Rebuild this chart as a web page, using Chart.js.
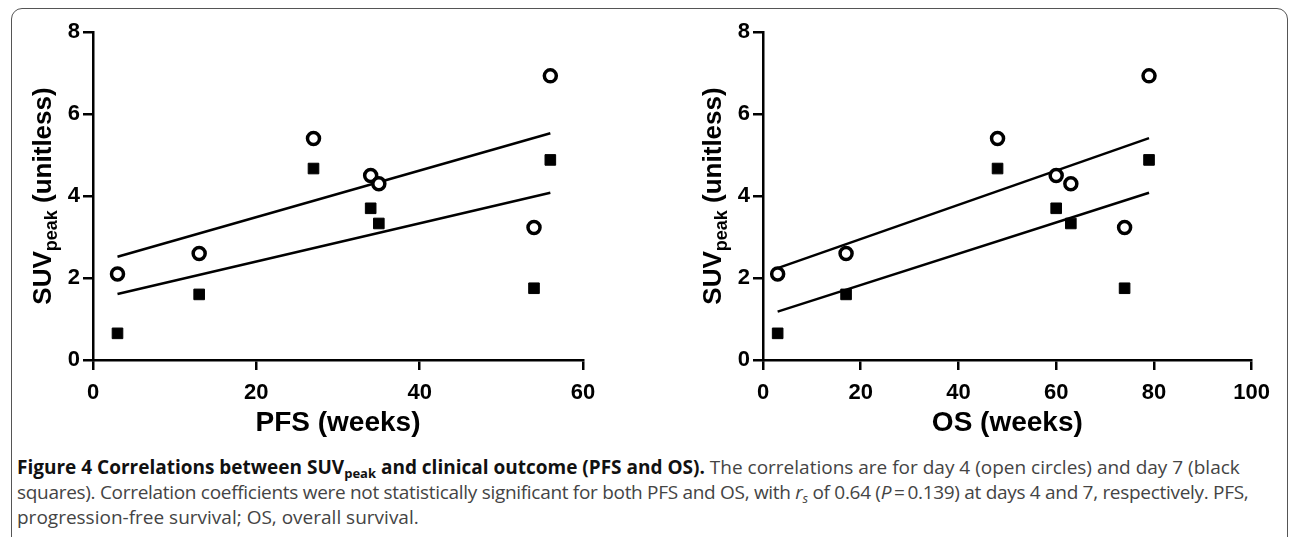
<!DOCTYPE html>
<html>
<head>
<meta charset="utf-8">
<script src="https://cdn.jsdelivr.net/npm/chart.js@4"></script>
<style>
  html, body { margin: 0; padding: 0; background: #fff; width: 1290px; height: 537px; overflow: hidden; }
  .frame { position: absolute; left: 11px; top: 8px; width: 1277px; height: 540px; border: 1.5px solid #555; border-radius: 11px; box-sizing: border-box; }
  .panel { position: absolute; top: 0; }
  #caption { position: absolute; left: 17px; top: 455px; width: 1270px; font-family: "Open Sans", sans-serif; font-size: 19px; line-height: 25px; color: #444; white-space: nowrap; }
  #caption b { color: #111; }
  #caption sub { font-size: 13px; line-height: 0; vertical-align: -4px; }
  #caption .tight { letter-spacing: -0.3px; }
</style>
</head>
<body>
<div class="frame"></div>
<div class="panel" style="left:0px"><canvas id="pfs-chart" width="640" height="450"></canvas></div>
<div class="panel" style="left:670px"><canvas id="os-chart" width="610" height="450"></canvas></div>
<div id="caption"><b>Figure 4 Correlations between SUV<sub>peak</sub> and clinical outcome (PFS and OS).</b> The correlations are for day 4 (open circles) and day 7 (black<br><span class="tight">squares). Correlation coefficients were not statistically significant for both PFS and OS, with <i>r<sub>s</sub></i> of 0.64 (<i>P</i>&#8201;=&#8201;0.139) at days 4 and 7, respectively. PFS,</span><br>progression-free survival; OS, overall survival.</div>
<script>
// Dane (ci sami pacjenci na obu panelach)
const pfsWeeks = [3, 13, 27, 34, 35, 54, 56];
const osWeeks = [3, 17, 48, 60, 63, 74, 79];
const suvDay4 = [2.1, 2.6, 5.4, 4.5, 4.3, 3.23, 6.93]; // otwarte kółka
const suvDay7 = [0.65, 1.6, 4.67, 3.7, 3.33, 1.75, 4.88]; // czarne kwadraty

// Końce linii regresji
const pfsFitX = [3, 56];
const pfsFitDay4 = [2.52, 5.53];
const pfsFitDay7 = [1.61, 4.08];
const osFitX = [3, 79];
const osFitDay4 = [2.24, 5.41];
const osFitDay7 = [1.18, 4.08];

const yTicks = [0, 2, 4, 6, 8];
const pfsTicks = [0, 20, 40, 60];
const osTicks = [0, 20, 40, 60, 80, 100];

const FONT = '"Liberation Sans", Arial, sans-serif';

const toPoints = (xs, ys) => xs.map((x, i) => ({ x: x, y: ys[i] }));

// Tytuły osi rysowane ręcznie (indeks dolny "peak")
const axisTitles = {
    id: 'axisTitles',
    afterDraw(chart, args, opts) {
        const ctx = chart.ctx;
        const a = chart.chartArea;
        ctx.save();
        ctx.fillStyle = '#000';
        ctx.textAlign = 'center';
        ctx.textBaseline = 'middle';
        ctx.font = 'bold 28px ' + FONT;
        ctx.fillText(opts.xTitle, (a.left + a.right) / 2, a.bottom + 63);

        ctx.translate(a.left - 51, (a.top + a.bottom) / 2);
        ctx.rotate(-Math.PI / 2);
        ctx.textAlign = 'left';
        ctx.textBaseline = 'alphabetic';
        const big = 'bold 26px ' + FONT, small = 'bold 18px ' + FONT;
        ctx.font = big;
        const w1 = ctx.measureText('SUV').width;
        const w3 = ctx.measureText(' (unitless)').width;
        ctx.font = small;
        const w2 = ctx.measureText('peak').width;
        let x = -(w1 + w2 + w3) / 2;
        ctx.font = big;
        ctx.fillText('SUV', x, 9);
        ctx.font = small;
        ctx.fillText('peak', x + w1, 15);
        ctx.font = big;
        ctx.fillText(' (unitless)', x + w1 + w2, 9);
        ctx.restore();
    }
};

function makeChart(id, weeks, fitX, fit4, fit7, xMax, xTicks, xTitle, padRight) {
    const ctx = document.getElementById(id).getContext('2d');
    const tickFont = { family: FONT, size: 22, weight: 'bold' };
    return new Chart(ctx, {
        type: 'scatter',
        data: {
            datasets: [
                {
                    label: 'Day 4',
                    data: toPoints(weeks, suvDay4),
                    pointStyle: 'circle',
                    pointRadius: 6,
                    borderWidth: 3.5,
                    borderColor: '#000',
                    backgroundColor: '#fff',
                    order: 1
                },
                {
                    label: 'Day 7',
                    data: toPoints(weeks, suvDay7),
                    pointStyle: 'rect',
                    pointRadius: 7.5,
                    borderWidth: 1,
                    borderColor: '#000',
                    backgroundColor: '#000',
                    order: 1
                },
                {
                    label: 'Fit day 4',
                    data: toPoints(fitX, fit4),
                    showLine: true,
                    pointRadius: 0,
                    borderColor: '#000',
                    borderWidth: 2.5,
                    order: 2
                },
                {
                    label: 'Fit day 7',
                    data: toPoints(fitX, fit7),
                    showLine: true,
                    pointRadius: 0,
                    borderColor: '#000',
                    borderWidth: 2.5,
                    order: 2
                }
            ]
        },
        options: {
            responsive: false,
            animation: false,
            layout: { padding: { left: 0, right: padRight, top: 32, bottom: 0 } },
            scales: {
                x: {
                    type: 'linear',
                    min: 0,
                    max: xMax,
                    afterBuildTicks: s => { s.ticks = xTicks.map(v => ({ value: v })); },
                    afterFit: s => { s.height = 90; },
                    grid: { drawOnChartArea: false, drawTicks: true, tickLength: 10, color: '#000', lineWidth: 2.5 },
                    border: { display: true, color: '#000', width: 2.5 },
                    ticks: { color: '#000', font: tickFont, padding: 10, maxRotation: 0 }
                },
                y: {
                    min: 0,
                    max: 8,
                    afterBuildTicks: s => { s.ticks = yTicks.map(v => ({ value: v })); },
                    afterFit: s => { s.width = 93; },
                    grid: { drawOnChartArea: false, drawTicks: true, tickLength: 10, color: '#000', lineWidth: 2.5 },
                    border: { display: true, color: '#000', width: 2.5 },
                    ticks: { color: '#000', font: tickFont, padding: 3 }
                }
            },
            plugins: {
                legend: { display: false },
                tooltip: { enabled: false },
                axisTitles: { xTitle: xTitle }
            }
        },
        plugins: [axisTitles]
    });
}

makeChart('pfs-chart', pfsWeeks, pfsFitX, pfsFitDay4, pfsFitDay7, 60, pfsTicks, 'PFS (weeks)', 57);
makeChart('os-chart', osWeeks, osFitX, osFitDay4, osFitDay7, 100, osTicks, 'OS (weeks)', 27);
</script>
</body>
</html>
